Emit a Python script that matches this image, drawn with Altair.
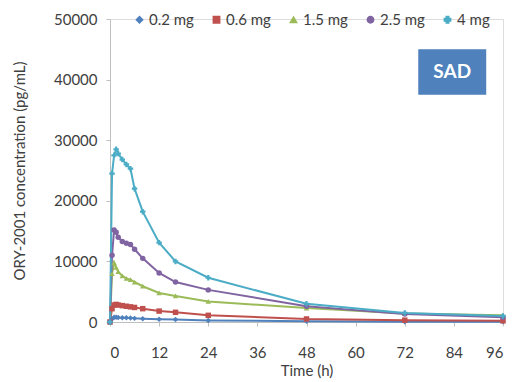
import altair as alt
import pandas as pd

times = [0, 0.5, 1, 1.5, 2, 3, 4, 5, 6, 8, 12, 16, 24, 48, 72, 96]
doses = ["0.2 mg", "0.6 mg", "1.5 mg", "2.5 mg", "4 mg"]
conc_02 = [0, 500, 800, 800, 750, 700, 700, 650, 600, 550, 450, 400, 250, 120, 60, 40]
conc_06 = [0, 2200, 2800, 2900, 2800, 2700, 2600, 2500, 2400, 2200, 1800, 1600, 1100, 500, 300, 200]
conc_15 = [0, 8000, 9800, 9000, 8300, 7600, 7200, 7000, 6600, 5900, 4800, 4300, 3400, 2300, 1400, 1100]
conc_25 = [0, 11000, 15200, 14800, 14000, 13300, 13000, 12800, 12000, 10500, 8100, 6600, 5300, 2600, 1300, 800]
conc_40 = [0, 24500, 27500, 28500, 27800, 26800, 26000, 25300, 22000, 18200, 13100, 10000, 7300, 3000, 1500, 1000]
colors = ["#4F81BD", "#C0504D", "#9BBB59", "#8064A2", "#4BACC6"]
shapes = ["diamond", "square", "triangle-up", "circle", "cross"]
x_ticks = [0, 12, 24, 36, 48, 60, 72, 84, 96]
y_ticks = [0, 5000, 10000, 15000, 20000, 25000, 30000, 35000, 40000, 45000, 50000]

rows = []
for dose, series in zip(doses, [conc_02, conc_06, conc_15, conc_25, conc_40]):
    for t, c in zip(times, series):
        rows.append({"Time": t, "Conc": c, "Dose": dose})
df = pd.DataFrame(rows)

box = pd.DataFrame({"x": [75.3], "x2": [91.9], "y": [37500], "y2": [45000],
                    "tx": [83.6], "ty": [41250], "label": ["SAD"]})

FONT = "Lato"
TXT = "#404040"
xs = alt.Scale(domain=[0, 96], nice=False)
ys = alt.Scale(domain=[0, 50000], nice=False)
leg = dict(title=None, orient="none", direction="horizontal",
           legendX=22, legendY=-7, labelFontSize=15, labelFont=FONT,
           labelColor=TXT, columnPadding=15, symbolSize=40, labelOffset=2)
col = alt.Color("Dose:N", scale=alt.Scale(domain=doses, range=colors),
                legend=alt.Legend(**leg))
shp = alt.Shape("Dose:N", scale=alt.Scale(domain=doses, range=shapes),
                legend=alt.Legend(**leg))

xenc = alt.X("Time:Q", scale=xs,
             axis=alt.Axis(title="Time (h)", values=x_ticks, grid=False,
                           labelFontSize=15, titleFontSize=15, titleFontWeight="normal",
                           labelFont=FONT, titleFont=FONT, labelColor=TXT,
                           titleColor=TXT, domainColor="#BFBFBF", tickColor="#BFBFBF",
                           tickSize=4, labelPadding=19, titlePadding=3))
yenc = alt.Y("Conc:Q", scale=ys,
             axis=alt.Axis(title="ORY-2001 concentration (pg/mL)", values=y_ticks,
                           grid=False, format="d", labelFontSize=15, titleFontSize=15,
                           titleFontWeight="normal", labelFont=FONT, titleFont=FONT,
                           labelColor=TXT, titleColor=TXT,
                           domainColor="#BFBFBF", tickColor="#BFBFBF", tickSize=4,
                           labelPadding=9, titlePadding=26))

lines = alt.Chart(df).mark_line(strokeWidth=2).encode(
    x=xenc, y=yenc, color=col, detail="Dose:N")
points = alt.Chart(df).mark_point(filled=True, size=30, opacity=1).encode(
    x="Time:Q", y="Conc:Q", color=col, shape=shp)

rect = alt.Chart(box).mark_rect(color="#4F81BD").encode(
    x=alt.X("x:Q", scale=xs), x2="x2", y=alt.Y("y:Q", scale=ys), y2="y2")
txt = alt.Chart(box).mark_text(color="white", fontSize=19, fontWeight="bold",
                               font=FONT).encode(
    x=alt.X("tx:Q", scale=xs), y=alt.Y("ty:Q", scale=ys), text="label:N")

chart = alt.layer(lines, points, rect, txt).properties(
    width=393, height=303,
    autosize=alt.AutoSizeParams(type="none"),
    padding={"left": 110, "top": 19, "right": 19, "bottom": 60},
).configure_view(stroke=None).configure(background="white")

chart.save("out.html", embed_options={"renderer": "svg", "actions": False})
